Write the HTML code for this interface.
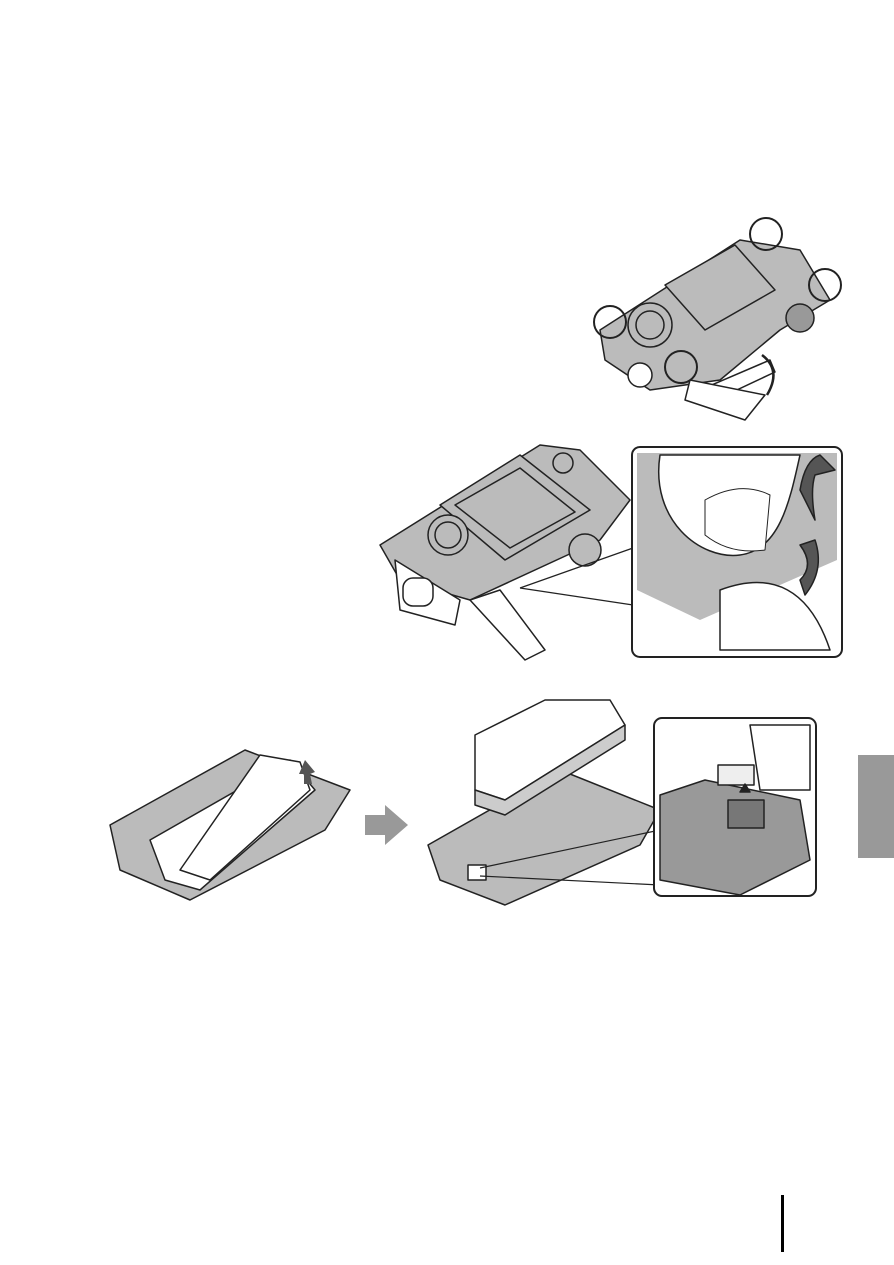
<!DOCTYPE html>
<html><head><style>
body{margin:0;background:#fff;width:894px;height:1260px;overflow:hidden;font-family:"Liberation Sans",sans-serif}
</style></head><body>
<svg width="894" height="1260" viewBox="0 0 894 1260" xmlns="http://www.w3.org/2000/svg">
<g stroke="#222" stroke-width="1.5" stroke-linejoin="round">
<!-- camera 1 -->
<polygon points="600,330 740,240 800,250 830,300 780,330 720,380 650,390 605,360" fill="#bbb"/>
<polygon points="665,285 735,245 775,290 705,330" fill="#bbb"/>
<circle cx="650" cy="325" r="22" fill="#bbb"/>
<circle cx="650" cy="325" r="14" fill="#bbb"/>
<circle cx="800" cy="318" r="14" fill="#999"/>
<polygon points="700,390 770,360 775,372 705,405" fill="#fff"/>
<polygon points="690,380 765,395 745,420 685,400" fill="#fff"/>
<path d="M762,355 q20,15 5,40" fill="none" stroke-width="2.5"/>
<g fill="none" stroke-width="2">
<circle cx="766" cy="234" r="16"/><circle cx="825" cy="285" r="16"/>
<circle cx="610" cy="322" r="16"/><circle cx="681" cy="367" r="16"/>
</g>
<circle cx="640" cy="375" r="12" fill="#fff"/>
<!-- camera 2 -->
<polygon points="380,545 540,445 580,450 630,500 600,540 470,600 400,580" fill="#bbb"/>
<polygon points="440,505 520,455 590,510 505,560" fill="#bbb"/>
<polygon points="455,505 520,468 575,512 510,548" fill="#bbb"/>
<circle cx="448" cy="535" r="20" fill="#bbb"/><circle cx="448" cy="535" r="13" fill="#bbb"/>
<circle cx="563" cy="463" r="10" fill="#bbb"/>
<circle cx="585" cy="550" r="16" fill="#bbb"/>
<polygon points="395,560 460,600 455,625 400,610" fill="#fff"/>
<rect x="403" y="578" width="30" height="28" rx="10" fill="#fff"/>
<polygon points="470,600 500,590 545,650 525,660" fill="#fff"/>
<line x1="520" y1="588" x2="633" y2="548" stroke-width="1.2"/>
<line x1="520" y1="588" x2="633" y2="605" stroke-width="1.2"/>
<rect x="632" y="447" width="210" height="210" rx="8" fill="#fff" stroke-width="2"/>
<path d="M637,453 H837 V560 L700,620 L637,590 Z" fill="#bbb" stroke="none"/>
<path d="M660,455 C650,520 700,560 740,555 C780,550 790,500 800,455 Z" fill="#fff"/>
<path d="M705,500 Q740,480 770,495 L765,550 Q730,555 705,535 Z" fill="#fff" stroke-width="1"/>
<path d="M720,590 Q800,560 830,650 H720 Z" fill="#fff"/>
<path d="M800,490 Q805,460 820,455 L835,470 L815,475 Q810,490 815,520 Z" fill="#555"/>
<path d="M815,540 Q825,570 805,595 L800,580 Q815,565 800,545 Z" fill="#555"/>
<!-- battery 1 -->
<polygon points="110,825 245,750 350,790 325,830 190,900 120,870" fill="#bbb"/>
<polygon points="150,840 290,760 315,790 200,890 165,880" fill="#fff"/>
<polygon points="260,755 300,762 310,790 210,880 180,870" fill="#fff"/>
<path d="M305,760 l10,12 l-5,2 l2,10 l-8,0 l0,-10 l-5,0 z" fill="#555" stroke="none"/>
<!-- arrow -->
<polygon points="365,815 385,815 385,805 408,825 385,845 385,835 365,835" fill="#999" stroke="none"/>
<!-- battery 2 -->
<polygon points="428,845 560,770 660,810 640,845 505,905 440,880" fill="#bbb"/>
<polygon points="475,735 545,700 610,700 625,725 505,800 475,790" fill="#fff"/>
<polygon points="475,790 505,800 625,725 625,740 505,815 475,805" fill="#ccc"/>
<rect x="468" y="865" width="18" height="15" fill="#fff"/>
<line x1="480" y1="868" x2="660" y2="830" stroke-width="1.2"/>
<line x1="480" y1="876" x2="660" y2="885" stroke-width="1.2"/>
<rect x="654" y="718" width="162" height="178" rx="8" fill="#fff" stroke-width="2"/>
<path d="M660,795 L705,780 L800,800 L810,860 L740,895 L660,880 Z" fill="#999"/>
<path d="M750,725 L810,725 L810,790 L760,790 Z" fill="#fff"/>
<rect x="718" y="765" width="36" height="20" fill="#eee"/>
<rect x="728" y="800" width="36" height="28" fill="#777"/>
<path d="M740,792 l5,-8 l5,8 z" fill="#222"/>
</g>
<rect x="858" y="755" width="36" height="103" fill="#999"/>
<rect x="781" y="1195" width="3" height="57" fill="#000"/>
</svg>
</body></html>
